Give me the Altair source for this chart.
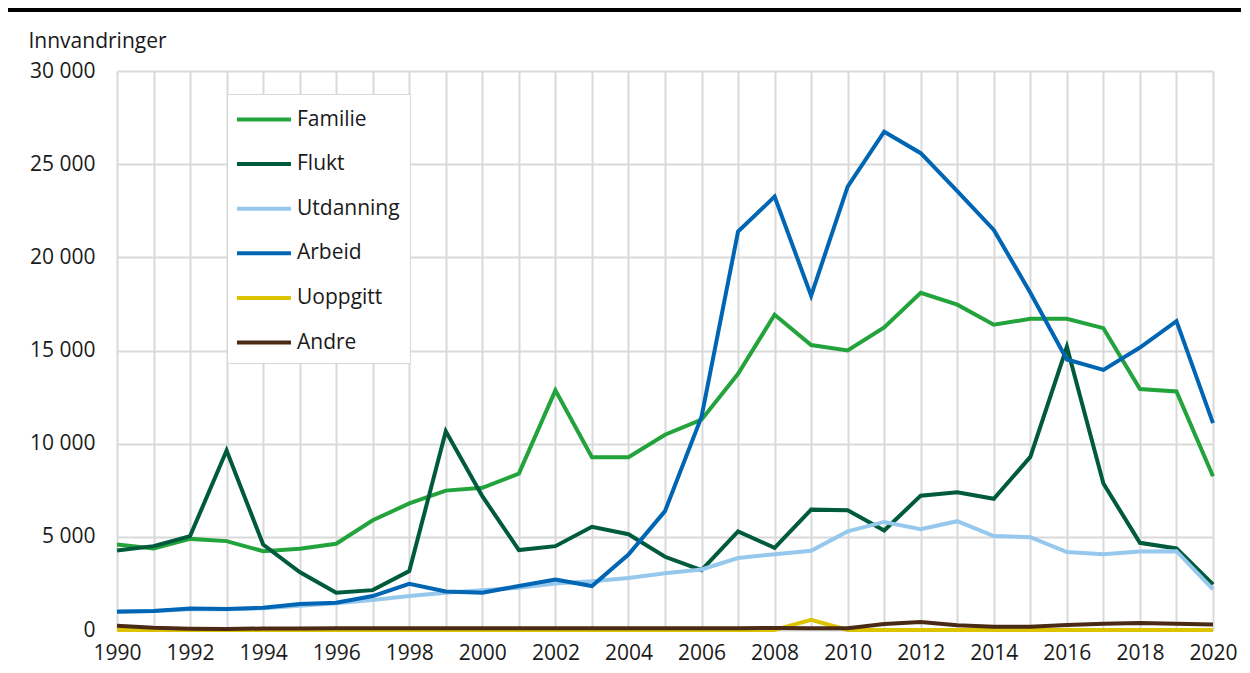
import altair as alt
import pandas as pd

years = list(range(1990, 2021))
series = ["Familie", "Flukt", "Utdanning", "Arbeid", "Uoppgitt", "Andre"]
colors = ["#22a33b", "#005a3c", "#96c8ee", "#0066b3", "#dcc400", "#4a2a15"]

familie = [4590, 4375, 4890, 4770, 4230, 4360, 4630, 5890, 6790, 7480, 7630, 8390, 12860, 9270, 9270,
           10480, 11290, 13750, 16920, 15290, 15000, 16240, 18100, 17460, 16380, 16700, 16700, 16200,
           12930, 12800, 8250]
flukt = [4270, 4500, 5040, 9630, 4590, 3110, 2000, 2140, 3160, 10660, 7180, 4290, 4500, 5540, 5140,
         3930, 3210, 5290, 4410, 6460, 6430, 5340, 7210, 7390, 7040, 9290, 15200, 7860, 4680, 4375, 2450]
utdanning = [1000, 1020, 1120, 1120, 1170, 1300, 1430, 1610, 1820, 2000, 2140, 2270, 2500, 2620, 2790,
             3050, 3250, 3860, 4070, 4250, 5290, 5800, 5410, 5840, 5040, 4980, 4180, 4070, 4210, 4230, 2180]
arbeid = [980, 1020, 1160, 1130, 1200, 1390, 1460, 1820, 2480, 2070, 2000, 2360, 2710, 2360, 4050,
          6380, 11450, 21380, 23260, 17940, 23800, 26740, 25590, 23550, 21470, 18100, 14520, 13960,
          15160, 16580, 11100]
uoppgitt = [0, 0, 0, 0, 0, 0, 0, 0, 0, 0, 0, 0, 0, 0, 0, 0, 0, 0, 0, 540, 0, 0, 0, 0, 0, 0, 0, 0, 0, 0, 0]
andre = [230, 120, 70, 50, 80, 80, 90, 100, 100, 90, 90, 90, 100, 90, 100, 100, 100, 100, 110, 100, 90,
         320, 430, 250, 180, 180, 270, 340, 375, 340, 290]

values = [familie, flukt, utdanning, arbeid, uoppgitt, andre]
rows = []
for name, vals in zip(series, values):
    for y, v in zip(years, vals):
        rows.append({"År": y, "Innvandringer": v, "Grunn": name})
df = pd.DataFrame(rows)

FONT = "Open Sans"
TXT = "#1a1a1a"
FS = 21

lines = alt.Chart(df).mark_line(strokeWidth=4, strokeJoin="miter").encode(
    x=alt.X("År:Q",
            scale=alt.Scale(domain=[1990, 2020], nice=False, zero=False),
            axis=alt.Axis(values=years, format="d", title=None, ticks=False, domain=False,
                          labelExpr="datum.value % 2 == 0 ? datum.label : ''",
                          labelPadding=12, labelFlush=False, labelOverlap=False)),
    y=alt.Y("Innvandringer:Q",
            scale=alt.Scale(domain=[0, 30000], nice=False),
            axis=alt.Axis(values=[0, 5000, 10000, 15000, 20000, 25000, 30000],
                          labelExpr="replace(format(datum.value, ','), ',', ' ')",
                          title="Innvandringer", titleAngle=0, titleAlign="left",
                          titleBaseline="alphabetic", titleX=-89, titleY=-24,
                          ticks=False, domain=False, labelPadding=22)),
    color=alt.Color("Grunn:N",
                    scale=alt.Scale(domain=series, range=colors),
                    sort=series,
                    legend=alt.Legend(title=None, orient="none", legendX=110, legendY=23,
                                      direction="vertical")),
)

topline = alt.Chart(pd.DataFrame({"a": [0]})).mark_rule(color="#000000", strokeWidth=4).encode(
    x=alt.value(-109), x2=alt.value(1124), y=alt.value(-61)
)

chart = alt.layer(lines, topline).properties(
    width=1096, height=559,
    autosize=alt.AutoSizeParams(type="none"),
    padding={"left": 109, "top": 63, "right": 28, "bottom": 36},
).configure_view(stroke=None).configure_axis(
    labelFont=FONT, labelFontSize=FS, labelColor=TXT,
    titleFont=FONT, titleFontSize=FS, titleColor=TXT, titleFontWeight="normal",
    gridColor="#d9d9d9", gridWidth=2,
).configure_legend(
    labelFont=FONT, labelFontSize=FS, labelColor=TXT,
    symbolType="M-1.15,0H2.85", symbolSize=729, symbolStrokeWidth=4,
    fillColor="#ffffff", strokeColor="#d9d9d9", padding=10,
    rowPadding=18.6, labelOffset=29,
)

chart.save("out.html", embed_options={"renderer": "svg", "actions": False})
